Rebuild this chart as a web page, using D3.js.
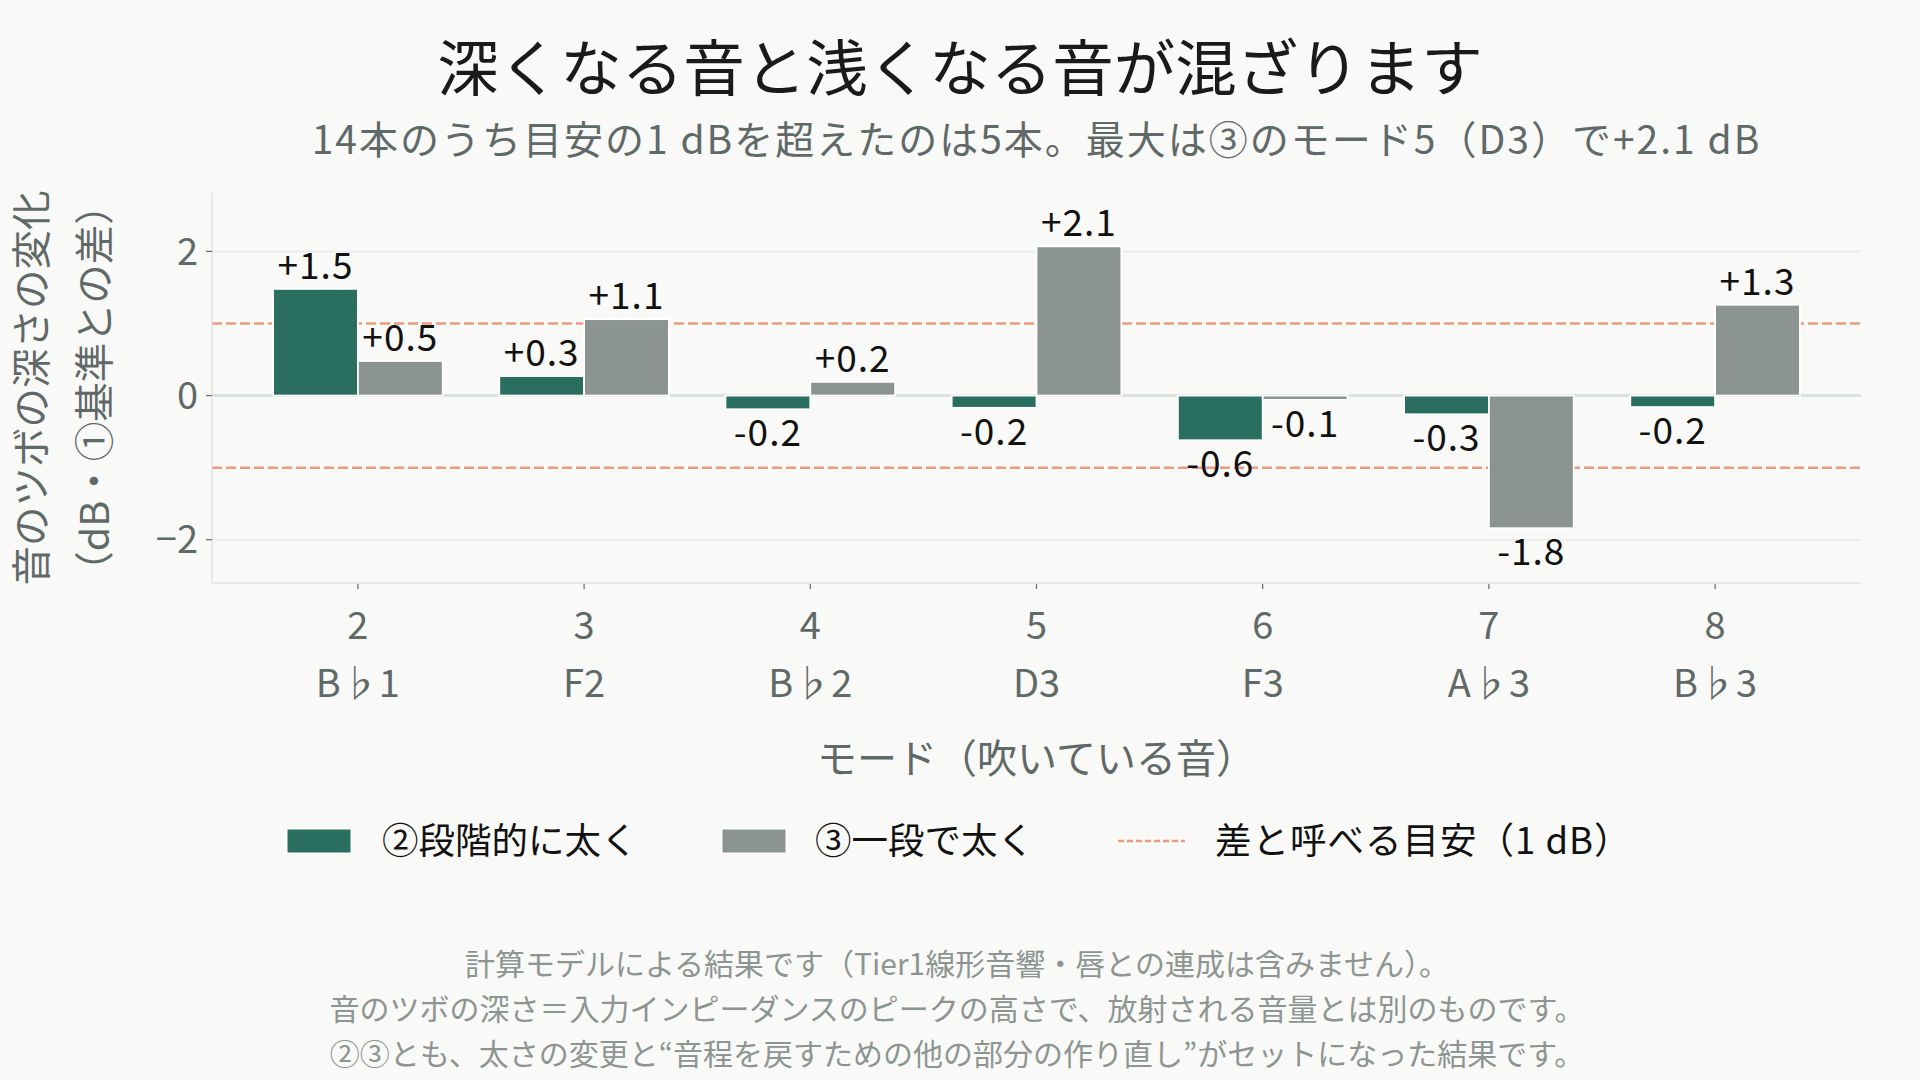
<!DOCTYPE html>
<html>
<head>
<meta charset="utf-8">
<script src="https://cdn.jsdelivr.net/npm/d3@7"></script>
<style>
  html, body { margin: 0; padding: 0; background: #f9f9f7; }
  svg { display: block; }
  text { font-family: "Noto Sans CJK JP", "Noto Sans", sans-serif; }
</style>
</head>
<body>
<svg id="chart" width="1920" height="1080"></svg>
<script>
// ---- data ----
const modes = [2, 3, 4, 5, 6, 7, 8];
const notes = ["B♭1", "F2", "B♭2", "D3", "F3", "A♭3", "B♭3"];
const stepwise = [1.48, 0.27, -0.19, -0.17, -0.62, -0.26, -0.16];   // ②段階的に太く
const oneStep  = [0.48, 1.06, 0.19, 2.07, -0.06, -1.84, 1.26];     // ③一段で太く
const yTicks = [-2, 0, 2];
const threshold = 1;
const seriesNames = ["②段階的に太く", "③一段で太く"];
const thresholdName = "差と呼べる目安（1 dB）";
const titleText = "深くなる音と浅くなる音が混ざります";
const subtitleText = "14本のうち目安の1 dBを超えたのは5本。最大は③のモード5（D3）で+2.1 dB";
const xTitle = "モード（吹いている音）";
const yTitleLines = ["音のツボの深さの変化", "（dB・①基準との差）"];
const notesLines = [
  "計算モデルによる結果です（Tier1線形音響・唇との連成は含みません）。",
  "音のツボの深さ＝入力インピーダンスのピークの高さで、放射される音量とは別のものです。",
  "②③とも、太さの変更と“音程を戻すための他の部分の作り直し”がセットになった結果です。"
];

// ---- style ----
const colors = ["#2a6e60", "#8b9490"];
const refColor = "#ee9a80";
const textGray = "#5f6968";
const bg = "#f9f9f7";

const svg = d3.select("#chart");
svg.append("rect").attr("width", 1920).attr("height", 1080).attr("fill", bg);

const plot = { left: 212, right: 1861, top: 193, bottom: 583 };
const x = d3.scaleLinear().domain([1.355, 8.645]).range([plot.left, plot.right]);
const y = d3.scaleLinear().domain([-2.6, 2.81]).range([plot.bottom, plot.top]);
const barW = 0.375; // in mode units

// gridlines
svg.append("g").selectAll("line").data(yTicks).join("line")
  .attr("x1", plot.left).attr("x2", plot.right)
  .attr("y1", d => y(d)).attr("y2", d => y(d))
  .attr("stroke", d => d === 0 ? "#dce3df" : "#e7eae8")
  .attr("stroke-width", d => d === 0 ? 3 : 1.5);

// threshold lines
svg.append("g").selectAll("line").data([threshold, -threshold]).join("line")
  .attr("x1", plot.left).attr("x2", plot.right)
  .attr("y1", d => y(d)).attr("y2", d => y(d))
  .attr("stroke", refColor).attr("stroke-width", 2.5)
  .attr("stroke-dasharray", "10,4");

// axis lines
svg.append("line").attr("x1", plot.left).attr("x2", plot.left)
  .attr("y1", plot.top).attr("y2", plot.bottom).attr("stroke", "#dfe3e1").attr("stroke-width", 1.5);
svg.append("line").attr("x1", plot.left).attr("x2", plot.right)
  .attr("y1", plot.bottom).attr("y2", plot.bottom).attr("stroke", "#dfe3e1").attr("stroke-width", 1.5);

// bars
const series = [stepwise, oneStep];
series.forEach((vals, si) => {
  const off = si === 0 ? -barW : 0;
  const g = svg.append("g");
  g.selectAll("rect").data(vals).join("rect")
    .attr("x", (d, i) => x(modes[i] + off))
    .attr("width", x(barW) - x(0))
    .attr("y", d => y(Math.max(0, d)))
    .attr("height", d => Math.abs(y(d) - y(0)))
    .attr("fill", colors[si])
    .attr("stroke", "#ffffff").attr("stroke-width", 1.8);
});

// value labels
const fmt = v => (v >= 0 ? "+" : "-") + Math.abs(v).toFixed(1);
series.forEach((vals, si) => {
  const off = si === 0 ? -barW / 2 : barW / 2;
  svg.append("g").selectAll("text").data(vals).join("text")
    .attr("x", (d, i) => x(modes[i] + off))
    .attr("y", d => d >= 0 ? y(d) - 10 : y(d) + 37)
    .attr("text-anchor", "middle")
    .attr("font-size", 37)
    .attr("letter-spacing", 1)
    .attr("fill", "#111111")
    .text(d => fmt(d));
});

// y axis ticks & labels
const yAxis = svg.append("g");
yAxis.selectAll("line").data(yTicks).join("line")
  .attr("x1", plot.left - 6).attr("x2", plot.left)
  .attr("y1", d => y(d)).attr("y2", d => y(d))
  .attr("stroke", textGray).attr("stroke-width", 1.2);
yAxis.selectAll("text").data(yTicks).join("text")
  .attr("x", 198).attr("y", d => y(d))
  .attr("dy", "0.35em")
  .attr("text-anchor", "end")
  .attr("font-size", 38).attr("fill", textGray)
  .text(d => d < 0 ? "−" + Math.abs(d) : String(d));

// x axis ticks & labels
const xAxis = svg.append("g");
xAxis.selectAll("line").data(modes).join("line")
  .attr("x1", d => x(d)).attr("x2", d => x(d))
  .attr("y1", plot.bottom + 1).attr("y2", plot.bottom + 6)
  .attr("stroke", textGray).attr("stroke-width", 1.2);
xAxis.selectAll("text.num").data(modes).join("text").attr("class", "num")
  .attr("x", d => x(d)).attr("y", 639)
  .attr("text-anchor", "middle")
  .attr("font-size", 38).attr("fill", textGray)
  .text(d => d);
xAxis.selectAll("text.note").data(notes).join("text").attr("class", "note")
  .attr("x", (d, i) => x(modes[i])).attr("y", 697)
  .attr("text-anchor", "middle")
  .attr("font-size", 38).attr("fill", textGray)
  .text(d => d);

// axis titles
svg.append("text")
  .attr("x", (plot.left + plot.right) / 2).attr("y", 773)
  .attr("text-anchor", "middle")
  .attr("font-size", 40).attr("fill", textGray)
  .text(xTitle);

const yCenter = (plot.top + plot.bottom) / 2;
svg.append("g").selectAll("text").data(yTitleLines).join("text")
  .attr("transform", (d, i) => `translate(${i === 0 ? 32 : 95},${yCenter}) rotate(-90)`)
  .attr("text-anchor", "middle")
  .attr("dy", "0.36em")
  .attr("font-size", 39.5).attr("fill", textGray)
  .text(d => d);

// title & subtitle
svg.append("text")
  .attr("x", 960).attr("y", 91)
  .attr("text-anchor", "middle")
  .attr("font-size", 61.5).attr("fill", "#1a1a1a")
  .text(titleText);
svg.append("text")
  .attr("x", (plot.left + plot.right) / 2).attr("y", 154)
  .attr("text-anchor", "middle")
  .attr("font-size", 39).attr("letter-spacing", 2).attr("fill", textGray)
  .text(subtitleText);

// legend
const legY = 841;
const leg = svg.append("g");
[287, 722].forEach((lx, i) => {
  leg.append("rect").attr("x", lx).attr("y", legY - 12).attr("width", 64).attr("height", 24)
    .attr("fill", colors[i]).attr("stroke", "#ffffff").attr("stroke-width", 1);
});
leg.append("line").attr("x1", 1118).attr("x2", 1185).attr("y1", legY).attr("y2", legY)
  .attr("stroke", refColor).attr("stroke-width", 2.5).attr("stroke-dasharray", "6,3");
const legTexts = [seriesNames[0], seriesNames[1], thresholdName];
const legX = [382, 815, 1215];
leg.selectAll("text").data(legTexts).join("text")
  .attr("x", (d, i) => legX[i]).attr("y", legY).attr("dy", "0.36em")
  .attr("font-size", 36.5).attr("letter-spacing", (d, i) => i === 2 ? 1 : 0).attr("fill", "#111111")
  .text(d => d);

// footnotes
svg.append("g").selectAll("text").data(notesLines).join("text")
  .attr("x", 957).attr("y", (d, i) => 975 + i * 45)
  .attr("text-anchor", "middle")
  .attr("font-size", 30).attr("fill", "#8d9592")
  .text(d => d);
</script>
</body>
</html>
